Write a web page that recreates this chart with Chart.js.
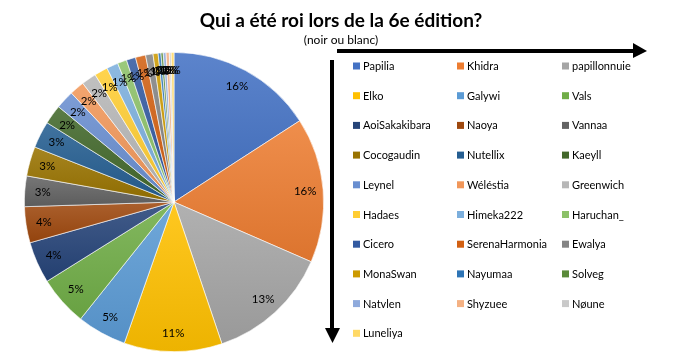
<!DOCTYPE html>
<html><head><meta charset="utf-8">
<script src="https://cdn.jsdelivr.net/npm/chart.js@4/dist/chart.umd.min.js"></script>
<style>html,body{margin:0;padding:0;background:#fff;overflow:hidden}</style>
</head><body>
<canvas id="c" width="679" height="358" style="width:679px;height:358px"></canvas>
<script>
const titleText = 'Qui a été roi lors de la 6e édition?';
const subtitleText = '(noir ou blanc)';
const categories = ['Papilia','Khidra','papillonnuie','Elko','Galywi','Vals','AoiSakakibara','Naoya','Vannaa','Cocogaudin','Nutellix','Kaeyll','Leynel','Wéléstia','Greenwich','Hadaes','Himeka222','Haruchan_','Cicero','SerenaHarmonia','Ewalya','MonaSwan','Nayumaa','Solveg','Natvlen','Shyzuee','Nøune','Luneliya'];
const values = [15.9,15.7,13.3,10.6,5.35,5.4,4.5,3.9,3.3,3.2,2.9,2.1,2.0,1.6,1.6,1.45,1.25,1.0,1.0,1.1,0.8,0.55,0.3,0.25,0.3,0.35,0.2,0.3];
const colors = ['#4472C4','#ED7D31','#A5A5A5','#FFC000','#5B9BD5','#70AD47','#264478','#9E480E','#636363','#997300','#255E91','#43682B','#698ED0','#F1975A','#B7B7B7','#FFCD33','#7CAFDD','#8CC168','#335AA1','#D26012','#848484','#CC9A00','#2E75B6','#5A8A39','#8FAADC','#F4B183','#C9C9C9','#FFD966'];

const FONT = 'Lato, "Open Sans", sans-serif';

function shade(hex, amt) {
  const n = parseInt(hex.slice(1), 16);
  let r = (n >> 16) & 255, g = (n >> 8) & 255, b = n & 255;
  const f = c => amt >= 0 ? Math.round(c + (255 - c) * amt) : Math.round(c * (1 + amt));
  return 'rgb(' + f(r) + ',' + f(g) + ',' + f(b) + ')';
}

function sliceFill(context) {
  const chart = context.chart;
  const area = chart.chartArea;
  const i = context.dataIndex;
  if (!area) return colors[i];
  const cx = (area.left + area.right) / 2, cy = (area.top + area.bottom) / 2;
  const R = Math.min(area.right - area.left, area.bottom - area.top) / 2;
  const total = values.reduce((a, b) => a + b, 0);
  let cum = 0;
  for (let k = 0; k < i; k++) cum += values[k];
  const a0 = -Math.PI / 2 + cum / total * 2 * Math.PI;
  const a1 = a0 + values[i] / total * 2 * Math.PI;
  let ys = [cy, cy + Math.sin(a0) * R, cy + Math.sin(a1) * R];
  [Math.PI / 2, 3 * Math.PI / 2, -Math.PI / 2].forEach(t => { if (t > a0 && t < a1) ys.push(cy + Math.sin(t) * R); });
  let top = Math.min(...ys), bot = Math.max(...ys);
  if (bot - top < 2) bot = top + 2;
  const g = chart.ctx.createLinearGradient(0, top, 0, bot);
  g.addColorStop(0, shade(colors[i], 0.13));
  g.addColorStop(1, shade(colors[i], -0.07));
  return g;
}

const overlay = {
  id: 'overlay',
  afterDraw(chart) {
    const ctx = chart.ctx;
    const meta = chart.getDatasetMeta(0);
    const total = values.reduce((a, b) => a + b, 0);
    ctx.save();
    ctx.fillStyle = '#000';
    ctx.font = '11.5px ' + FONT;
    ctx.textAlign = 'center';
    ctx.textBaseline = 'middle';
    meta.data.forEach((arc, i) => {
      const p = arc.getProps(['x','y','startAngle','endAngle','outerRadius'], true);
      const mid = (p.startAngle + p.endAngle) / 2;
      const r = p.outerRadius * 0.88;
      const pct = Math.round(values[i] / total * 100);
      ctx.fillText(pct + '%', p.x + Math.cos(mid) * r, p.y + Math.sin(mid) * r);
    });
    ctx.font = 'bold 19px ' + FONT;
    ctx.fillText(titleText, 341, 21);
    ctx.font = '12px ' + FONT;
    ctx.fillText(subtitleText, 341, 40);
    ctx.textAlign = 'left';
    ctx.font = '11px ' + FONT;
    const colX = [353, 457, 562];
    const rowY0 = 66, rowDy = 29.7;
    categories.forEach((name, i) => {
      const col = i % 3, row = Math.floor(i / 3);
      const x = colX[col], y = rowY0 + row * rowDy;
      ctx.fillStyle = colors[i];
      ctx.fillRect(x, y - 3.5, 7, 7);
      ctx.fillStyle = '#000';
      ctx.fillText(name, x + 10, y + 0.5);
    });
    ctx.fillStyle = '#000';
    ctx.fillRect(337, 49, 297, 4);
    ctx.beginPath();
    ctx.moveTo(633, 43); ctx.lineTo(647, 51); ctx.lineTo(633, 58); ctx.closePath(); ctx.fill();
    ctx.fillRect(330, 60, 4, 269);
    ctx.beginPath();
    ctx.moveTo(325, 328); ctx.lineTo(340, 328); ctx.lineTo(332.5, 343); ctx.closePath(); ctx.fill();
    ctx.restore();
  }
};

new Chart(document.getElementById('c'), {
  type: 'pie',
  data: {
    labels: categories,
    datasets: [{ data: values, backgroundColor: sliceFill, borderColor: 'rgba(255,255,255,0.8)', borderWidth: 0.75 }]
  },
  options: {
    responsive: false,
    animation: false,
    devicePixelRatio: 1,
    layout: { padding: { left: 24, right: 355, top: 52, bottom: 6 } },
    plugins: { legend: { display: false }, tooltip: { enabled: false }, title: { display: false } }
  },
  plugins: [overlay]
});
</script>
</body></html>
